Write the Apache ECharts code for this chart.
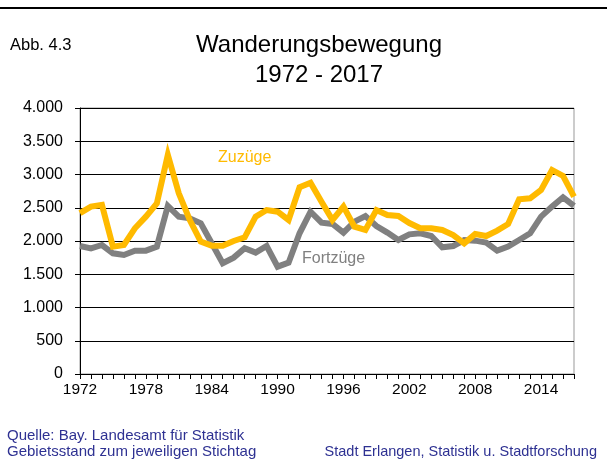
<!DOCTYPE html>
<html>
<head>
<meta charset="utf-8">
<script src="https://cdn.jsdelivr.net/npm/echarts@6/dist/echarts.min.js"></script>
<style>
html,body{margin:0;padding:0;background:#fff;}
#chart{width:607px;height:463px;}
</style>
</head>
<body>
<div id="chart"></div>
<script>
var years = [];
for (var y = 1972; y <= 2017; y++) years.push(String(y));

var zuzuege = [2420,2517,2542,1915,1940,2191,2366,2567,3294,2717,2316,1990,1930,1930,2000,
  2055,2366,2466,2441,2316,2808,2877,2592,2316,2517,2216,2166,2466,2391,2376,
  2270,2191,2191,2166,2090,1965,2106,2075,2156,2256,2627,2642,2767,3068,2978,2667];

var fortzuege = [1925,1890,1940,1815,1790,1855,1855,1915,2527,2366,2341,2266,1966,1665,1750,
  1890,1825,1925,1614,1674,2116,2441,2276,2256,2126,2291,2376,2226,2126,2015,
  2100,2116,2075,1905,1925,2015,2005,1975,1855,1915,2015,2116,2366,2517,2657,2527];

var seriesNames = ['Zuzüge', 'Fortzüge'];
var yTicks = [0, 500, 1000, 1500, 2000, 2500, 3000, 3500, 4000];

var chart = echarts.init(document.getElementById('chart'), null, {renderer: 'canvas'});
var FONT = '"Liberation Sans", Arial, sans-serif';
var navy = '#2E3192';

function fmt(v) {
  var s = String(v);
  return s.length > 3 ? s.slice(0, s.length - 3) + '.' + s.slice(-3) : s;
}

chart.setOption({
  animation: false,
  backgroundColor: '#fff',
  grid: {left: 80, right: 33, top: 108, bottom: 89, show: true, borderColor: '#999', borderWidth: 1, backgroundColor: 'transparent'},
  xAxis: {
    type: 'category',
    data: years,
    boundaryGap: false,
    axisLine: {lineStyle: {color: '#000', width: 1}},
    axisTick: {show: true, interval: 0, length: 5, lineStyle: {color: '#000'}},
    axisLabel: {
      interval: function (i) { return i % 6 === 0; },
      color: '#000', fontFamily: FONT, fontSize: 15.5, margin: 8
    },
    splitLine: {show: false}
  },
  yAxis: {
    type: 'value',
    min: yTicks[0], max: yTicks[yTicks.length - 1], interval: 500,
    axisLine: {show: true, lineStyle: {color: '#000', width: 1}},
    axisTick: {show: true, length: 5, lineStyle: {color: '#000'}},
    axisLabel: {color: '#000', fontFamily: FONT, fontSize: 16, margin: 17, formatter: fmt},
    splitLine: {show: true, lineStyle: {color: '#000', width: 1}}
  },
  series: [
    {
      name: seriesNames[1], type: 'line', data: fortzuege, showSymbol: false, symbol: 'none',
      lineStyle: {color: '#808080', width: 6, join: 'miter'}, z: 2
    },
    {
      name: seriesNames[0], type: 'line', data: zuzuege, showSymbol: false, symbol: 'none',
      lineStyle: {color: '#FFBA00', width: 6, join: 'miter'}, z: 3
    }
  ],
  graphic: [
    {type: 'rect', shape: {x: 0, y: 7, width: 607, height: 2}, style: {fill: '#000'}},
    {type: 'text', x: 10, y: 37, style: {text: 'Abb. 4.3', font: '16.5px ' + FONT, fill: '#000'}},
    {type: 'text', x: 319, y: 33, style: {text: 'Wanderungsbewegung', font: '24px ' + FONT, fill: '#000', align: 'center'}},
    {type: 'text', x: 319, y: 63, style: {text: '1972 - 2017', font: '24px ' + FONT, fill: '#000', align: 'center'}},
    {type: 'text', x: 218, y: 150, style: {text: seriesNames[0], font: '16px ' + FONT, fill: '#FFBA00'}},
    {type: 'text', x: 302, y: 251, style: {text: seriesNames[1], font: '16px ' + FONT, fill: '#808080'}},
    {type: 'text', x: 7, y: 428, style: {text: 'Quelle: Bay. Landesamt für Statistik', font: '15px ' + FONT, fill: navy}},
    {type: 'text', x: 7, y: 444, style: {text: 'Gebietsstand zum jeweiligen Stichtag', font: '15px ' + FONT, fill: navy}},
    {type: 'text', x: 597, y: 444, style: {text: 'Stadt Erlangen, Statistik u. Stadtforschung', font: '14.5px ' + FONT, fill: navy, align: 'right'}}
  ]
});
</script>
</body>
</html>
